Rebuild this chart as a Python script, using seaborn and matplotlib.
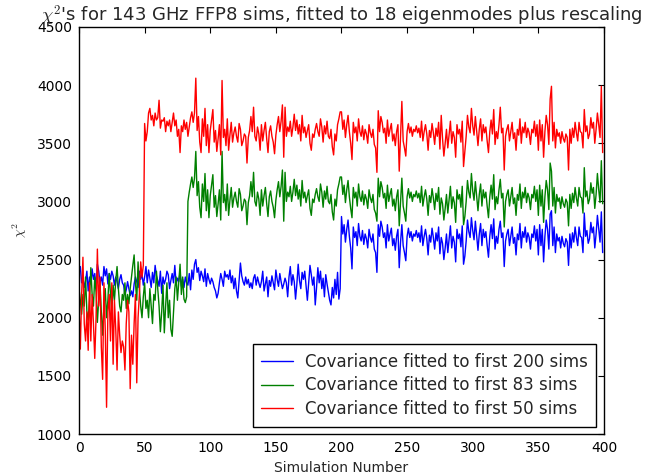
import numpy as np
import pandas as pd
import matplotlib
matplotlib.use("Agg")
import matplotlib.pyplot as plt
import seaborn as sns

TITLE = r"$\chi^2$'s for 143 GHz FFP8 sims, fitted to 18 eigenmodes plus rescaling"
LABELS = [
    "Covariance fitted to first 200 sims",
    "Covariance fitted to first 83 sims",
    "Covariance fitted to first 50 sims",
]
COLORS = ["#0000ff", "#008000", "#ff0000"]

sims = np.arange(400)

chi2_fit200 = [
    2380, 2440, 2300, 2350, 2260, 2310, 2400, 2230, 2350, 2290, 2420, 2330, 2380, 2250, 2460, 2400, 2300, 2350, 2280, 2440,
    2360, 2420, 2290, 2380, 2330, 2400, 2360, 2280, 2350, 2310, 2250, 2330, 2370, 2300, 2280, 2200, 2240, 2310, 2250, 2190,
    2230, 2180, 2290, 2350, 2310, 2260, 2400, 2330, 2380, 2280, 2350, 2440, 2300, 2410, 2340, 2260, 2390, 2300, 2450, 2360,
    2320, 2270, 2400, 2210, 2350, 2290, 2330, 2400, 2370, 2250, 2320, 2380, 2300, 2450, 2290, 2340, 2310, 2390, 2270, 2330,
    2260, 2350, 2300, 2280, 2380, 2240, 2410, 2330, 2460, 2500, 2390, 2430, 2320, 2400, 2360, 2310, 2420, 2270, 2380, 2330,
    2290, 2340, 2310, 2260, 2230, 2170, 2210, 2300, 2380, 2330, 2270, 2400, 2350, 2370, 2330, 2410, 2300, 2360, 2250, 2340,
    2230, 2170, 2320, 2470, 2360, 2310, 2280, 2350, 2290, 2330, 2260, 2300, 2250, 2340, 2370, 2280, 2350, 2300, 2260, 2310,
    2400, 2230, 2290, 2350, 2180, 2320, 2270, 2360, 2300, 2240, 2410, 2330, 2270, 2380, 2310, 2250, 2290, 2340, 2300, 2180,
    2350, 2440, 2280, 2370, 2310, 2160, 2290, 2460, 2320, 2250, 2390, 2330, 2400, 2270, 2150, 2300, 2450, 2370, 2280, 2350,
    2110, 2260, 2430, 2300, 2400, 2250, 2340, 2180, 2370, 2290, 2220, 2150, 2110, 2260, 2170, 2330, 2200, 2390, 2160, 2250,
    2870, 2720, 2800, 2650, 2760, 2840, 2700, 2600, 2420, 2780, 2690, 2740, 2620, 2810, 2700, 2660, 2750, 2630, 2720, 2680,
    2600, 2760, 2690, 2650, 2720, 2590, 2560, 2390, 2800, 2700, 2830, 2780, 2690, 2730, 2600, 2800, 2660, 2720, 2770, 2620,
    2680, 2580, 2700, 2760, 2430, 2650, 2800, 2620, 2560, 2490, 2700, 2770, 2690, 2740, 2660, 2720, 2700, 2750, 2690, 2730,
    2650, 2790, 2620, 2700, 2760, 2680, 2540, 2710, 2650, 2770, 2690, 2590, 2730, 2660, 2780, 2550, 2690, 2640, 2500, 2600,
    2720, 2560, 2680, 2790, 2600, 2700, 2650, 2480, 2760, 2680, 2720, 2610, 2790, 2460, 2530, 2660, 2840, 2740, 2690, 2860,
    2750, 2670, 2830, 2700, 2580, 2720, 2810, 2620, 2760, 2690, 2740, 2620, 2520, 2700, 2800, 2680, 2850, 2590, 2700, 2640,
    2760, 2830, 2690, 2730, 2440, 2660, 2720, 2760, 2620, 2700, 2780, 2640, 2690, 2540, 2720, 2670, 2810, 2600, 2740, 2690,
    2780, 2650, 2730, 2690, 2590, 2720, 2690, 2790, 2660, 2760, 2540, 2800, 2620, 2760, 2480, 2700, 2840, 2760, 2590, 2890,
    2920, 2620, 2780, 2560, 2720, 2660, 2690, 2600, 2700, 2640, 2610, 2680, 2650, 2450, 2720, 2600, 2730, 2650, 2780, 2690,
    2620, 2780, 2700, 2690, 2560, 2900, 2700, 2750, 2640, 2680, 2820, 2730, 2780, 2600, 2720, 2880, 2760, 2650, 2910, 2560,
]

chi2_fit83 = [
    2250, 2150, 2030, 2200, 2100, 2350, 2050, 1980, 2150, 2430, 2200, 2100, 2350, 2220, 1960, 2150, 2300, 2050, 1850, 2100,
    2250, 2000, 2150, 2380, 2200, 2060, 2280, 2150, 2320, 2440, 2250, 2100, 2050, 2200, 2150, 2300, 2080, 2200, 2120, 2250,
    2350, 2450, 2540, 2300, 2150, 2480, 2250, 2100, 2000, 2180, 2300, 2080, 2150, 2000, 2250, 2100, 1950, 2200, 2150, 2400,
    2250, 2100, 1880, 2050, 2280, 1870, 2100, 2300, 2000, 2150, 1900, 1840, 2050, 2250, 2350, 2150, 2300, 2460, 2200, 2350,
    2160, 2130, 2180, 3000, 3080, 3150, 3210, 3120, 3200, 3430, 3050, 3170, 2950, 2860, 3150, 3000, 3240, 2920, 3100, 2860,
    3050, 3140, 3230, 2950, 3050, 2870, 2980, 3100, 2840, 3430, 2990, 3060, 2920, 3150, 2880, 3010, 3120, 2950, 3030, 3080,
    3000, 2950, 3110, 3060, 2920, 2960, 3020, 3000, 2800, 2990, 3050, 3170, 3040, 3250, 3000, 2960, 3080, 3020, 2880, 3100,
    2960, 3050, 3120, 2980, 2870, 3040, 3090, 3000, 2950, 2860, 3010, 3100, 3170, 3040, 3130, 3270, 2830, 3250, 3000, 3080,
    3040, 3130, 3000, 3080, 3190, 3050, 3140, 3020, 3100, 2960, 3180, 3030, 3080, 2990, 3050, 3100, 2940, 2880, 3020, 2990,
    3060, 3110, 3040, 3000, 3150, 3080, 2950, 3090, 3020, 3130, 3000, 2980, 3060, 2910, 2840, 3020, 2960, 3100, 3150, 3210,
    3210, 3060, 3140, 2990, 3100, 3180, 3040, 2940, 2860, 3120, 3030, 3080, 2960, 3150, 3040, 3000, 3090, 2970, 3060, 3020,
    2940, 3100, 3030, 2990, 3060, 2930, 2900, 2830, 3200, 3040, 3170, 3120, 3030, 3070, 2940, 3140, 3000, 3060, 3110, 2960,
    3020, 2920, 3040, 3100, 2790, 2990, 3200, 2960, 2900, 2830, 3040, 3110, 3030, 3080, 3000, 3060, 3040, 3090, 3030, 3070,
    2990, 3130, 2960, 3040, 3100, 3020, 2880, 3050, 2990, 3110, 3030, 2930, 3070, 3000, 3120, 2890, 3030, 2980, 2840, 2940,
    3060, 2900, 3020, 3130, 2940, 3040, 2990, 2820, 3100, 3020, 3060, 2950, 3130, 2800, 2870, 3000, 3180, 3080, 3030, 3240,
    3090, 3010, 3170, 3040, 2920, 3060, 3150, 2960, 3100, 3030, 3080, 2960, 2860, 3040, 3140, 3020, 3230, 2930, 3040, 2980,
    3100, 3190, 3030, 3070, 2780, 3000, 3060, 3100, 2960, 3040, 3120, 2980, 3030, 2880, 3060, 3010, 3150, 2940, 3080, 3030,
    3120, 2990, 3070, 3030, 2930, 3060, 3030, 3130, 3000, 3100, 2880, 3140, 2960, 3100, 2820, 3040, 3180, 3100, 2930, 3330,
    3260, 2960, 3120, 2900, 3060, 3000, 3030, 2940, 3040, 2980, 2950, 3020, 2990, 2790, 3060, 2940, 3070, 2990, 3120, 3030,
    2960, 3120, 3040, 3030, 2900, 3290, 3040, 3090, 2980, 3020, 3160, 3070, 3120, 2940, 3060, 3240, 3100, 2990, 3350, 2980,
]

chi2_fit50 = [
    2100, 1730, 2200, 2520, 1950, 1800, 2050, 1720, 2300, 1800, 2200, 1950, 1650, 2000, 2590, 2100, 2350, 1750, 1470, 2300,
    1900, 1230, 2050, 2200, 1800, 2300, 1600, 2150, 1900, 1550, 2050, 1850, 1700, 1800, 1750, 1550, 1950, 2150, 2050, 1390,
    1850, 1600, 1950, 2200, 1440, 2000, 2200, 2480, 2350, 2450, 3670, 3520, 3600, 3760, 3800, 3700, 3740, 3650, 3760, 3700,
    3720, 3870, 3630, 3700, 3690, 3720, 3600, 3690, 3650, 3700, 3600, 3680, 3760, 3650, 3700, 3560, 3620, 3420, 3650, 3600,
    3700, 3620, 3680, 3560, 3640, 3720, 3770, 3680, 3760, 4060, 3610, 3730, 3510, 3420, 3710, 3560, 3800, 3480, 3660, 3420,
    3610, 3700, 3790, 3510, 3610, 3430, 3540, 3660, 3400, 4040, 3550, 3620, 3480, 3710, 3440, 3570, 3680, 3510, 3590, 3640,
    3560, 3510, 3670, 3620, 3480, 3520, 3580, 3560, 3330, 3550, 3610, 3730, 3600, 3810, 3560, 3520, 3640, 3580, 3440, 3660,
    3520, 3610, 3680, 3540, 3420, 3600, 3650, 3560, 3510, 3410, 3570, 3660, 3730, 3600, 3690, 3830, 3380, 3810, 3560, 3640,
    3600, 3690, 3560, 3640, 3750, 3610, 3700, 3580, 3660, 3520, 3740, 3590, 3640, 3550, 3610, 3660, 3500, 3440, 3580, 3550,
    3620, 3670, 3600, 3560, 3710, 3640, 3510, 3650, 3580, 3690, 3560, 3540, 3620, 3470, 3400, 3580, 3520, 3660, 3710, 3770,
    3770, 3620, 3700, 3550, 3660, 3740, 3600, 3500, 3360, 3680, 3590, 3640, 3520, 3710, 3600, 3560, 3650, 3530, 3620, 3580,
    3500, 3660, 3590, 3550, 3620, 3490, 3460, 3250, 3780, 3600, 3730, 3680, 3590, 3630, 3500, 3700, 3560, 3620, 3670, 3520,
    3580, 3480, 3600, 3660, 3260, 3550, 3860, 3520, 3460, 3390, 3600, 3670, 3590, 3640, 3560, 3620, 3600, 3650, 3590, 3630,
    3550, 3690, 3520, 3600, 3660, 3580, 3440, 3610, 3550, 3670, 3590, 3490, 3630, 3560, 3680, 3450, 3740, 3540, 3390, 3500,
    3620, 3460, 3580, 3690, 3500, 3600, 3550, 3380, 3660, 3580, 3620, 3510, 3690, 3300, 3430, 3560, 3740, 3640, 3590, 3800,
    3650, 3570, 3730, 3600, 3480, 3620, 3710, 3520, 3660, 3590, 3640, 3520, 3420, 3600, 3700, 3580, 3790, 3490, 3600, 3540,
    3660, 3810, 3590, 3630, 3270, 3560, 3620, 3660, 3520, 3600, 3680, 3540, 3590, 3440, 3620, 3570, 3710, 3500, 3640, 3590,
    3680, 3550, 3630, 3590, 3490, 3620, 3590, 3690, 3560, 3660, 3440, 3700, 3520, 3660, 3380, 3600, 3740, 3660, 3490, 3880,
    3990, 3520, 3680, 3460, 3620, 3560, 3590, 3500, 3600, 3540, 3510, 3580, 3550, 3270, 3620, 3500, 3630, 3550, 3680, 3590,
    3520, 3680, 3600, 3590, 3460, 3790, 3600, 3650, 3540, 3580, 3720, 3630, 3680, 3500, 3620, 3760, 3660, 3550, 3990, 3420,
]


def main():
    sns.set_style("white")
    plt.rcParams.update({
        "font.family": ["DejaVu Sans"],
        "mathtext.fontset": "cm",
        "axes.edgecolor": "black",
        "axes.linewidth": 1.0,
        "xtick.direction": "in",
        "ytick.direction": "in",
        "xtick.top": True,
        "ytick.right": True,
        "xtick.major.size": 4,
        "ytick.major.size": 4,
        "xtick.color": "black",
        "ytick.color": "black",
    })

    fig = plt.figure(figsize=(6.54, 4.75), dpi=100)
    ax = fig.add_axes([0.1208, 0.0863, 0.8027, 0.8569])

    series = [chi2_fit200, chi2_fit83, chi2_fit50]
    for values, label, color in zip(series, LABELS, COLORS):
        df = pd.DataFrame({"sim": sims, "chi2": values})
        sns.lineplot(data=df, x="sim", y="chi2", color=color, linewidth=1.0,
                     label=label, estimator=None, ax=ax)

    ax.set_xlim(0, 400)
    ax.set_ylim(1000, 4500)
    ax.set_xticks(np.arange(0, 401, 50))
    ax.set_yticks(np.arange(1000, 4501, 500))
    ax.tick_params(labelsize=10, pad=5)
    ax.set_xlabel("Simulation Number", fontsize=10, labelpad=4)
    ax.set_ylabel(r"$\chi^2$", fontsize=10, labelpad=6)
    ax.set_title(TITLE, fontsize=13, pad=4)

    ax.legend(loc="lower right", fontsize=12, frameon=True, fancybox=False,
              edgecolor="black", framealpha=1, borderaxespad=0.45,
              borderpad=0.5, labelspacing=0.35, handlelength=1.9,
              handletextpad=0.75)

    fig.savefig("out.png", dpi=100)
    plt.close(fig)


if __name__ == "__main__":
    main()
